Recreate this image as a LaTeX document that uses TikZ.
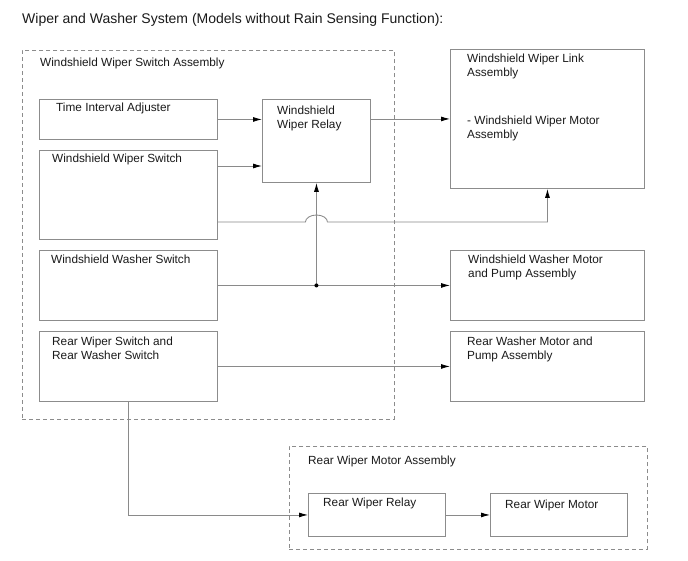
\documentclass[tikz,border=0pt]{standalone}
\usepackage{fontspec}
\setmainfont{Liberation Sans}
\usetikzlibrary{arrows.meta,calc}
\definecolor{boxgray}{HTML}{8C8C8C}
\definecolor{linegray}{HTML}{8A8A8A}
\definecolor{txt}{HTML}{1A1A1A}
\begin{document}
\begin{tikzpicture}[x=1pt,y=-1pt,
  every node/.style={font=\fontsize{11.8}{14}\selectfont, text=txt},
  blk/.style={draw=boxgray, line width=0.9pt, anchor=north west, inner sep=0pt},
  grp/.style={draw=boxgray, line width=0.9pt, dash pattern=on 4pt off 3pt, anchor=north west, inner sep=0pt},
  lbl/.style={anchor=north west, inner sep=0pt, align=left},
  conn/.style={draw=linegray, line width=0.85pt, -{Latex[length=9pt,width=5pt,black]}},
  wire/.style={draw=linegray, line width=0.85pt}]
\useasboundingbox[fill=white] (0,0) rectangle (688,560);

% title
\node[lbl, font=\fontsize{14}{16}\selectfont] (title) at (22,13) {Wiper and Washer System (Models without Rain Sensing Function):};

% groups
\node[grp, minimum width=372pt, minimum height=369pt] (g1) at (22,50) {};
\node[lbl] (g1t) at (40,57.5) {Windshield Wiper Switch Assembly};
\node[grp, minimum width=358pt, minimum height=103pt] (g2) at (289,446) {};
\node[lbl] (g2t) at (308,455.5) {Rear Wiper Motor Assembly};

% left blocks
\node[blk, minimum width=178pt, minimum height=40pt] (tia) at (39,99) {};
\node[lbl] at (56,102.5) {Time Interval Adjuster};
\node[blk, minimum width=178pt, minimum height=89pt] (wws) at (39,150) {};
\node[lbl] at (52,153.5) {Windshield Wiper Switch};
\node[blk, minimum width=178pt, minimum height=70pt] (wsh) at (39,250) {};
\node[lbl] at (51,254.5) {Windshield Washer Switch};
\node[blk, minimum width=178pt, minimum height=70pt] (rws) at (39,331) {};
\node[lbl] at (52,336.5) {Rear Wiper Switch and\\Rear Washer Switch};

% relay
\node[blk, minimum width=108pt, minimum height=83pt] (relay) at (262,99) {};
\node[lbl] at (277,105.5) {Windshield\\Wiper Relay};

% right blocks
\node[blk, minimum width=194pt, minimum height=139pt] (link) at (450,49) {};
\node[lbl] at (467,53.5) {Windshield Wiper Link\\Assembly};
\node[lbl] at (467,116) {- Windshield Wiper Motor\\Assembly};
\node[blk, minimum width=194pt, minimum height=70pt] (wm) at (450,250) {};
\node[lbl] at (468,254.5) {Windshield Washer Motor\\and Pump Assembly};
\node[blk, minimum width=194pt, minimum height=70pt] (rwm) at (450,331) {};
\node[lbl] at (467,336.5) {Rear Washer Motor and\\Pump Assembly};

% rear group blocks
\node[blk, minimum width=137pt, minimum height=43pt] (rrelay) at (308,493) {};
\node[lbl] at (323,497.5) {Rear Wiper Relay};
\node[blk, minimum width=137pt, minimum height=43pt] (rmotor) at (490,493) {};
\node[lbl] at (505,499.5) {Rear Wiper Motor};

% connectors
\draw[conn] (tia.east) -- (relay.west |- tia.east);
\draw[conn] ($(wws.north east)+(0,16)$) -- (relay.west |- {$(wws.north east)+(0,16)$});
\draw[conn] (relay.east |- link.west) -- (link.west);
\coordinate (hop) at (relay.south |- {$(wws.north east)+(0,72)$});
\draw[conn] ($(wws.north east)+(0,72)$) -- ($(hop)+(-11,0)$)
   arc[start angle=180, end angle=0, x radius=11pt, y radius=7pt]
   -- (link.south |- hop) -- (link.south);
\coordinate (dot) at (relay.south |- wsh.east);
\draw[conn] (wsh.east) -- (wm.west);
\draw[conn] (dot) -- (relay.south);
\fill[black] (dot) circle[radius=2pt];
\draw[conn] (rws.east) -- (rwm.west);
\draw[conn] (rws.south) |- (rrelay.west);
\draw[conn] (rrelay.east) -- (rmotor.west);
\end{tikzpicture}
\end{document}
